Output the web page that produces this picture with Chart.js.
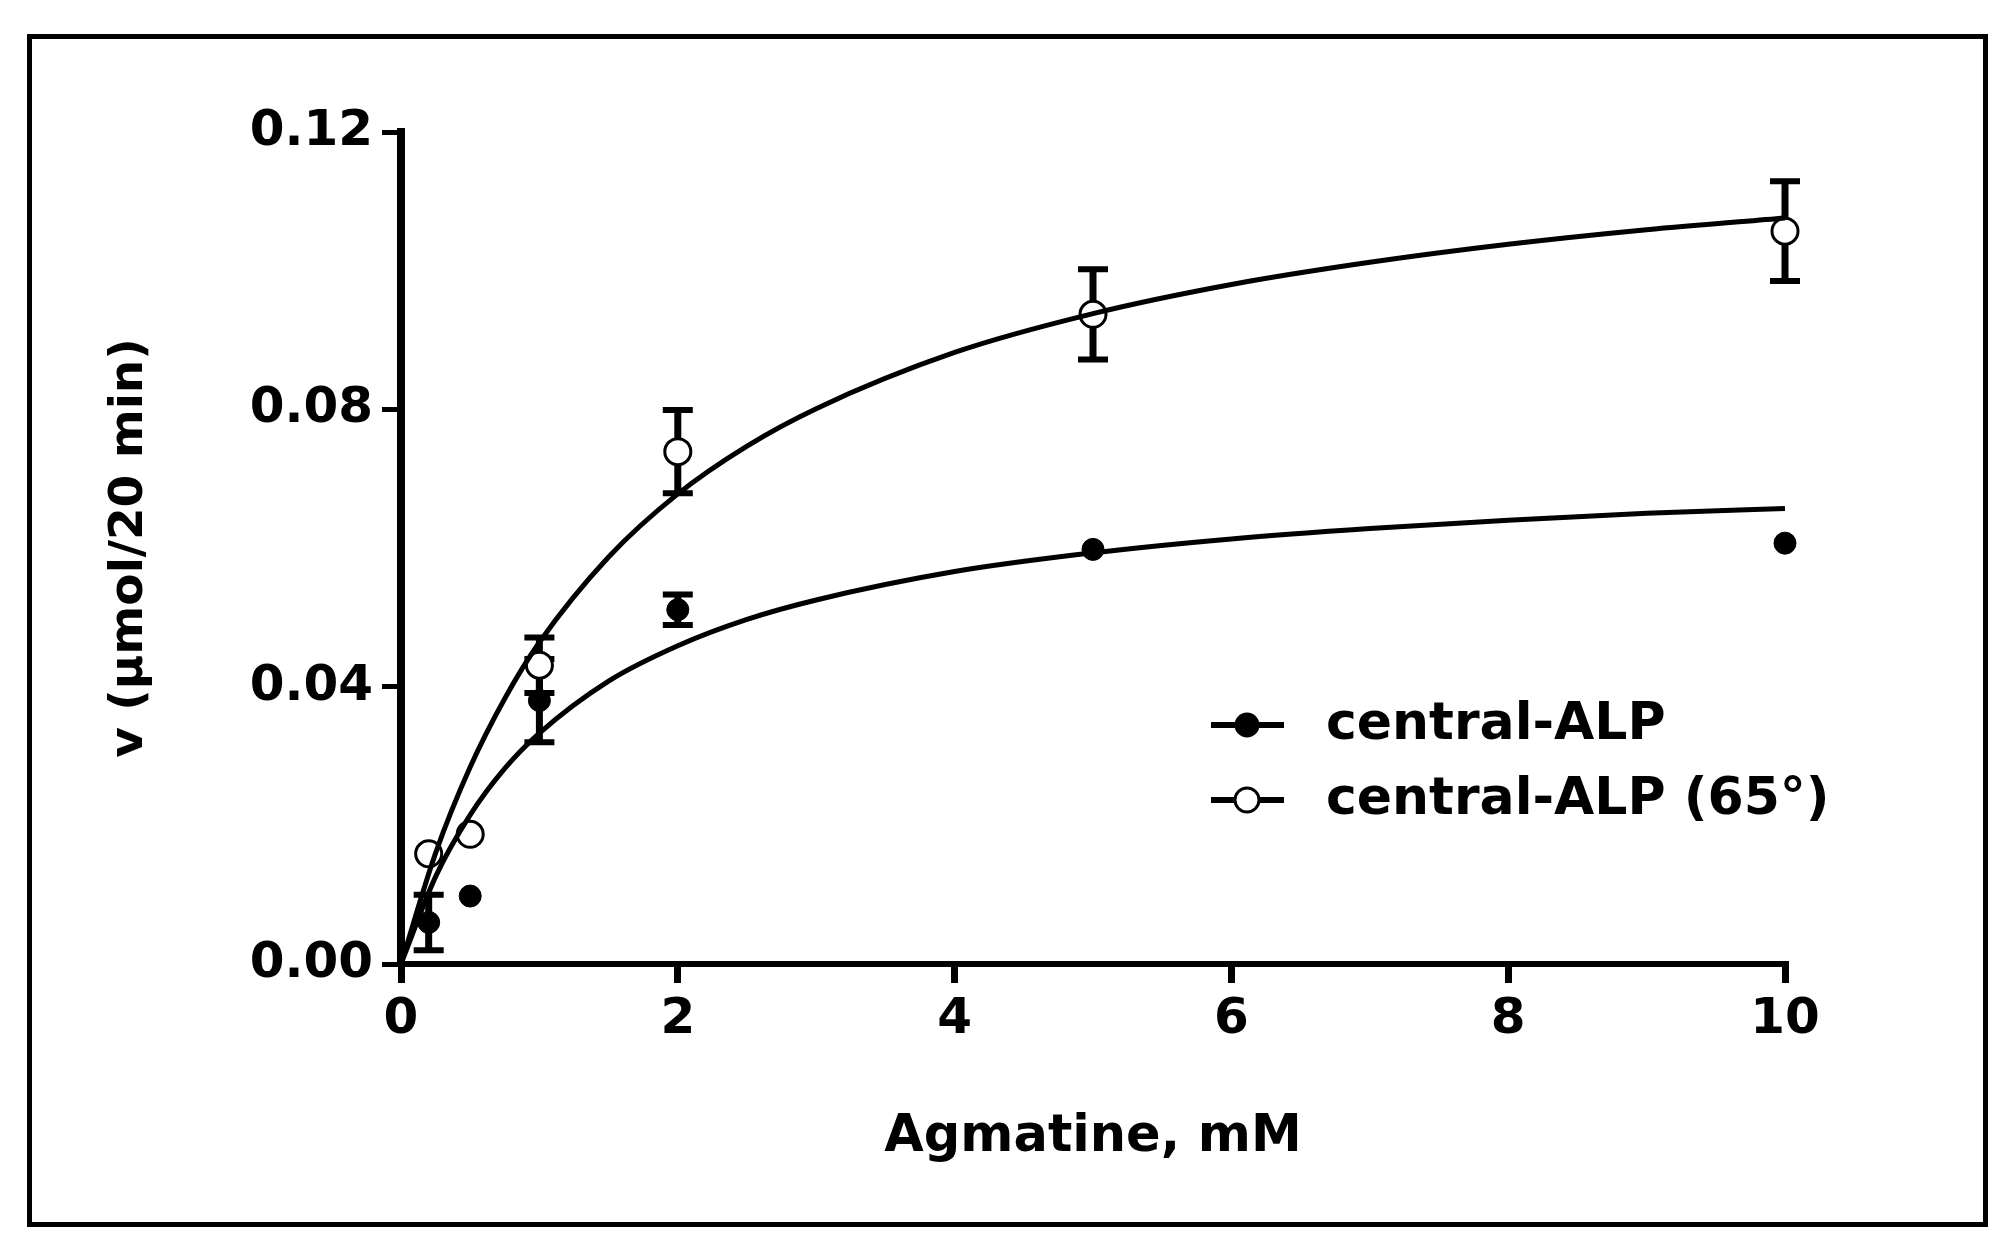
<!DOCTYPE html>
<html>
<head>
<meta charset="utf-8">
<script src="https://cdn.jsdelivr.net/npm/chart.js@4.4.1/dist/chart.umd.min.js"></script>
<style>
body{margin:0;background:#fff;overflow:hidden;}
.frame{position:absolute;left:27px;top:34px;width:1961px;height:1193px;border:5px solid #000;box-sizing:border-box;}
canvas{position:absolute;left:0;top:0;}
</style>
</head>
<body>
<div class="frame"></div>
<canvas id="myChart" width="2013" height="1259"></canvas>
<script>
//measured points
let pointX = [0.2, 0.5, 1, 2, 5, 10];
let alpY = [0.006, 0.0098, 0.038, 0.0511, 0.0598, 0.0607];
let alpErr = [0.004, 0, 0.006, 0.0022, 0, 0];
let alp65Y = [0.0159, 0.0187, 0.0431, 0.0739, 0.0937, 0.1057];
let alp65Err = [0, 0, 0.004, 0.006, 0.0065, 0.0072];

//fitted curves
let fitX = [0, 0.25, 0.5, 0.75, 1, 1.5, 2, 2.5, 3, 4, 5, 6, 7, 8, 9, 10];
let alpFit = [0, 0.0126, 0.0215, 0.0282, 0.0333, 0.0408, 0.0459, 0.0497, 0.0525, 0.0566, 0.0593, 0.0613, 0.0628, 0.0640, 0.0650, 0.0657];
let alp65Fit = [0, 0.0160, 0.0284, 0.0383, 0.0464, 0.0587, 0.0678, 0.0747, 0.0801, 0.0882, 0.0938, 0.0980, 0.1012, 0.1038, 0.1059, 0.1076];

let xTicks = [0, 2, 4, 6, 8, 10];
let yTicks = [0, 0.04, 0.08, 0.12];
let labels = ['central-ALP', 'central-ALP (65°)'];

let font = '"DejaVu Sans", sans-serif';

function pts(xs, ys) {
    return xs.map(function (v, i) {
        return {x: v, y: ys[i]};
    });
}

let errorBars = {
    id: 'errorBars',
    beforeDatasetsDraw(chart) {
        let ctx = chart.ctx;
        let xs = chart.scales.x;
        let ys = chart.scales.y;
        [[alpY, alpErr], [alp65Y, alp65Err]].forEach(function (s) {
            pointX.forEach(function (px, i) {
                let e = s[1][i];
                if (!e) return;
                let cx = xs.getPixelForValue(px);
                let top = ys.getPixelForValue(s[0][i] + e);
                let bot = ys.getPixelForValue(Math.max(0, s[0][i] - e));
                ctx.save();
                ctx.strokeStyle = '#000';
                ctx.lineWidth = 7;
                ctx.beginPath();
                ctx.moveTo(cx, top);
                ctx.lineTo(cx, bot);
                ctx.stroke();
                ctx.lineWidth = 6;
                ctx.beginPath();
                ctx.moveTo(cx - 15, top);
                ctx.lineTo(cx + 15, top);
                ctx.moveTo(cx - 15, bot);
                ctx.lineTo(cx + 15, bot);
                ctx.stroke();
                ctx.restore();
            });
        });
    }
};

let legendBox = {
    id: 'legendBox',
    afterDraw(chart) {
        let ctx = chart.ctx;
        let rows = [{y: 725, fill: '#000', r: 11}, {y: 800, fill: '#fff', r: 12}];
        ctx.save();
        rows.forEach(function (row, i) {
            ctx.strokeStyle = '#000';
            ctx.lineWidth = 6;
            ctx.beginPath();
            ctx.moveTo(1211, row.y);
            ctx.lineTo(1284, row.y);
            ctx.stroke();
            ctx.beginPath();
            ctx.arc(1247, row.y, row.r, 0, Math.PI * 2);
            ctx.fillStyle = row.fill;
            ctx.fill();
            ctx.lineWidth = 3;
            ctx.stroke();
            ctx.fillStyle = '#000';
            ctx.font = 'bold 52px ' + font;
            ctx.textBaseline = 'middle';
            ctx.textAlign = 'left';
            ctx.fillText(labels[i], 1326, row.y);
        });
        ctx.restore();
    }
};

let ctx = document.getElementById('myChart').getContext('2d');
let chart = new Chart(ctx, {
    type: 'scatter',
    data: {
        datasets: [{
            label: labels[0] + ' fit',
            data: pts(fitX, alpFit),
            showLine: true,
            pointRadius: 0,
            borderColor: '#000',
            borderWidth: 5,
            cubicInterpolationMode: 'monotone',
            clip: false
        }, {
            label: labels[1] + ' fit',
            data: pts(fitX, alp65Fit),
            showLine: true,
            pointRadius: 0,
            borderColor: '#000',
            borderWidth: 5,
            cubicInterpolationMode: 'monotone',
            clip: false
        }, {
            label: labels[0],
            data: pts(pointX, alpY),
            showLine: false,
            pointRadius: 11,
            pointBackgroundColor: '#000',
            pointBorderColor: '#000',
            clip: false
        }, {
            label: labels[1],
            data: pts(pointX, alp65Y),
            showLine: false,
            pointRadius: 13,
            pointBackgroundColor: '#fff',
            pointBorderColor: '#000',
            pointBorderWidth: 3,
            clip: false
        }]
    },
    options: {
        responsive: false,
        animation: false,
        events: [],
        layout: {padding: {left: 0, top: 132, right: 228, bottom: 95}},
        plugins: {legend: {display: false}, tooltip: {enabled: false}},
        scales: {
            x: {
                type: 'linear',
                min: 0,
                max: 10,
                afterBuildTicks: function (s) {
                    s.ticks = xTicks.map(function (v) { return {value: v}; });
                },
                afterFit: function (s) { s.height = 200; },
                border: {display: true, color: '#000', width: 6},
                grid: {drawOnChartArea: false, drawTicks: true, tickLength: 19, color: '#000', lineWidth: 7},
                ticks: {color: '#000', padding: 7, maxRotation: 0, font: {family: font, weight: 'bold', size: 50}},
                title: {display: true, text: 'Agmatine, mM', color: '#000', padding: {top: 0, bottom: 1},
                    font: {family: font, weight: 'bold', size: 51, lineHeight: 1}}
            },
            y: {
                type: 'linear',
                min: 0,
                max: 0.12,
                afterBuildTicks: function (s) {
                    s.ticks = yTicks.map(function (v) { return {value: v}; });
                },
                afterFit: function (s) { s.width = 401; },
                border: {display: true, color: '#000', width: 8},
                grid: {drawOnChartArea: false, drawTicks: true, tickLength: 19, color: '#000', lineWidth: 5},
                ticks: {color: '#000', padding: 9, font: {family: font, weight: 'bold', size: 50},
                    callback: function (v) { return v.toFixed(2); }},
                title: {display: true, text: 'v (µmol/20 min)', color: '#000', padding: {top: 106, bottom: 0},
                    font: {family: font, weight: 'bold', size: 47, lineHeight: 1}}
            }
        }
    },
    plugins: [errorBars, legendBox]
});
</script>
</body>
</html>
